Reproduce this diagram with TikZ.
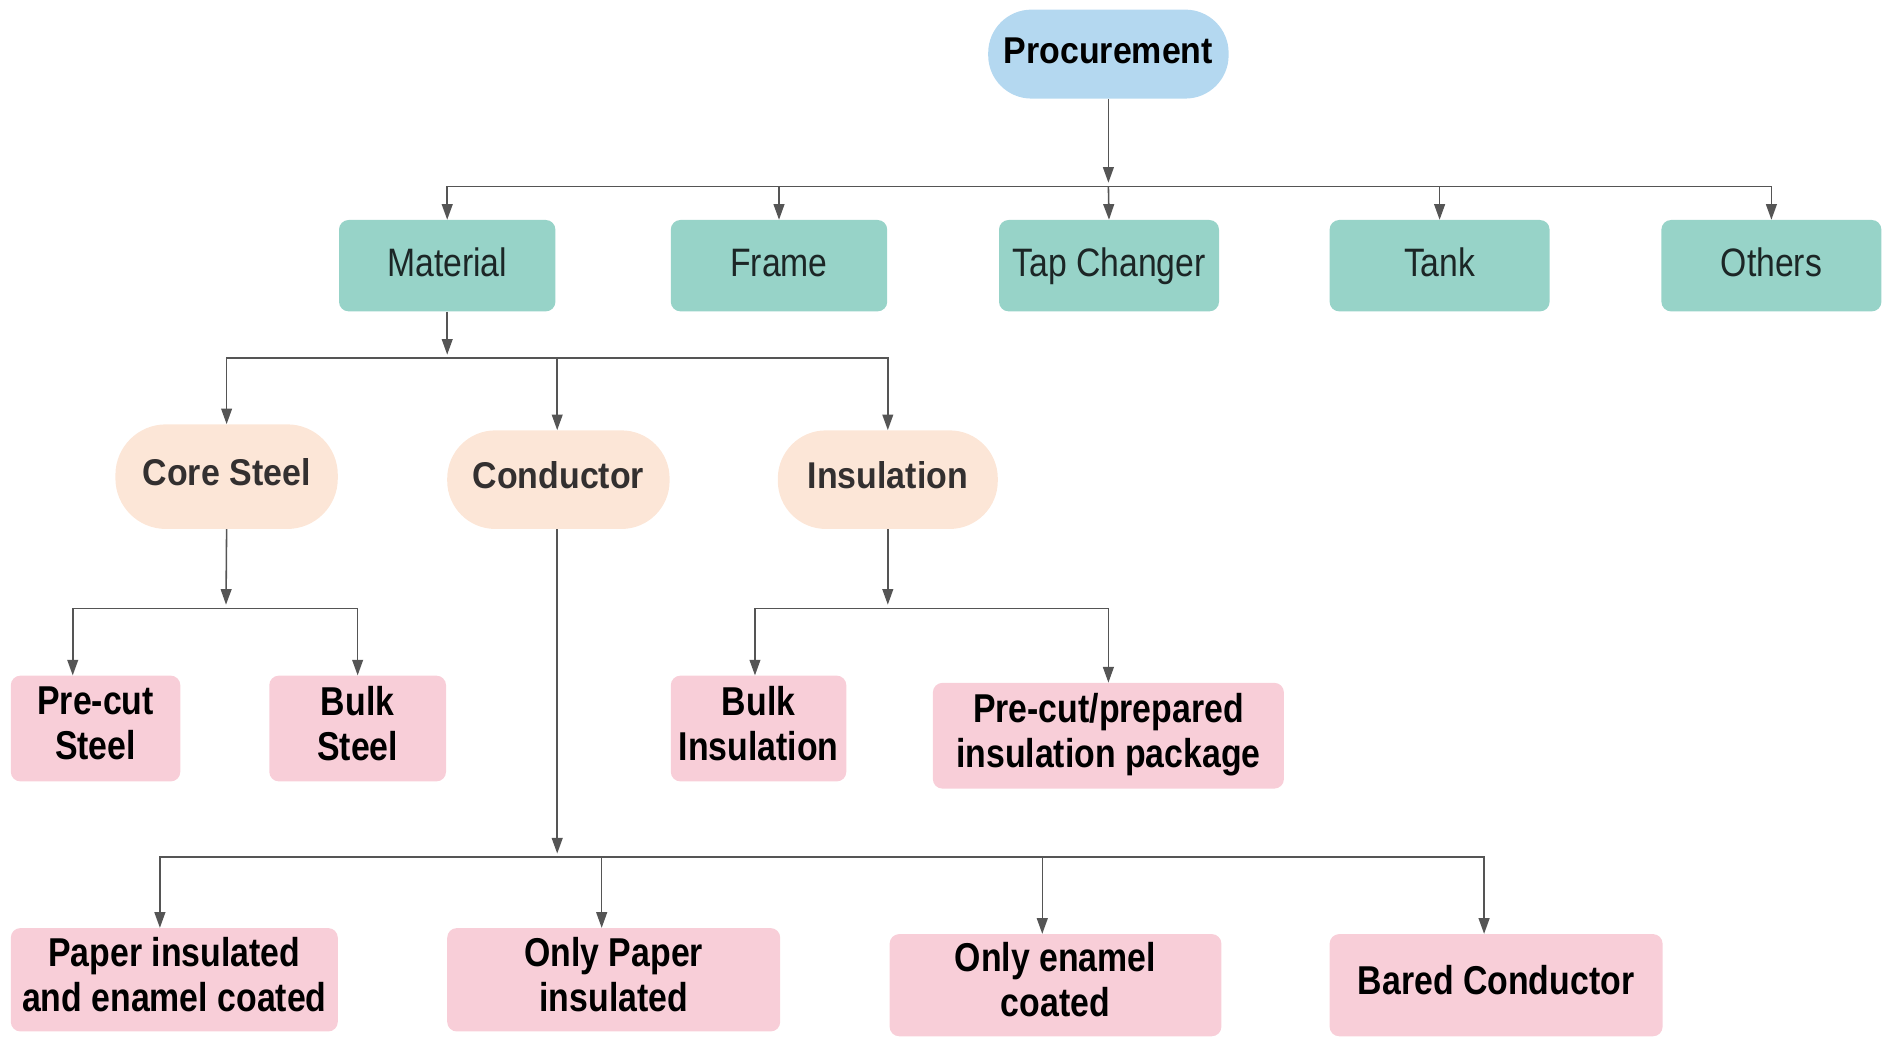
\documentclass[tikz,border=0pt]{standalone}
\usepackage{fontspec}
\setmainfont{Liberation Sans}[FakeStretch=0.86]
\newfontfamily\pillfont{Liberation Sans}[FakeStretch=0.91]
\newfontfamily\tealfont{Liberation Sans}[FakeStretch=0.85]
\newfontfamily\leaffont{Liberation Sans}[FakeStretch=0.84]
\usetikzlibrary{arrows.meta}
\definecolor{tealc}{HTML}{97D3C8}
\definecolor{bluec}{HTML}{B4D8F0}
\definecolor{peachc}{HTML}{FCE6D7}
\definecolor{pinkc}{HTML}{F8CED8}
\definecolor{linec}{HTML}{555555}
\definecolor{textdark}{HTML}{1C2626}
\definecolor{pilltext}{HTML}{333030}
\begin{document}
\begin{tikzpicture}[x=1pt,y=-1pt]
\tikzset{
  base/.style={inner sep=0pt, align=center},
  procbox/.style={base, fill=bluec, rounded corners=36pt, minimum width=200pt, minimum height=74pt,
    font={\pillfont\bfseries\fontsize{31}{37}\selectfont}, text=black, text height=23pt, text depth=8pt},
  topbox/.style={base, fill=tealc, rounded corners=8pt, minimum height=76pt,
    font={\tealfont\fontsize{33}{38}\selectfont}, text=textdark, text height=24pt, text depth=6pt},
  pill/.style={base, fill=peachc, rounded corners=40pt, minimum height=82pt,
    font={\pillfont\bfseries\fontsize{31}{37}\selectfont}, text=pilltext, text height=23pt, text depth=9pt},
  leaf/.style={base, fill=pinkc, rounded corners=8pt,
    font={\leaffont\bfseries\fontsize{33.5}{37.5}\selectfont}, text=black, text depth=9pt},
  link/.style={draw=linec, line width=1.3pt},
  arr/.style={link, -{Triangle[length=13pt,width=9pt]}}
}
\useasboundingbox (0,0) rectangle (1568,862);

% nodes
\node[procbox] (proc) at (922,45) {Procurement};

\node[topbox, minimum width=180pt] (material) at (372,221) {Material};
\node[topbox, minimum width=180pt] (frame) at (648,221) {Frame};
\node[topbox, minimum width=183pt] (tap) at (922.5,221) {Tap Changer};
\node[topbox, minimum width=183pt] (tank) at (1197.5,221) {Tank};
\node[topbox, minimum width=183pt] (others) at (1473.5,221) {Others};

\node[pill, minimum width=185pt, minimum height=87pt, rounded corners=42pt] (core) at (188.5,396.5) {Core Steel};
\node[pill, minimum width=185pt] (cond) at (464.5,399) {Conductor};
\node[pill, minimum width=183pt] (ins) at (738.5,399) {Insulation};

\node[leaf, minimum width=141pt, minimum height=88pt] (precut) at (79.5,606) {Pre-cut\\Steel};
\node[leaf, minimum width=147pt, minimum height=88pt] (bulks) at (297.5,606) {Bulk\\Steel};
\node[leaf, minimum width=146pt, minimum height=88pt] (bulki) at (631,606) {Bulk\\Insulation};
\node[leaf, minimum width=292pt, minimum height=88pt] (prep) at (922,612) {Pre-cut/prepared\\insulation package};

\node[leaf, minimum width=272pt, minimum height=86pt] (p1) at (145,815) {Paper insulated\\and enamel coated};
\node[leaf, minimum width=277pt, minimum height=86pt] (p2) at (510.5,815) {Only Paper\\insulated};
\node[leaf, minimum width=276pt, minimum height=85pt] (p3) at (878,819.5) {Only enamel\\coated};
\node[leaf, minimum width=277pt, minimum height=85pt] (p4) at (1244.5,819.5) {Bared Conductor};

% junctions
\coordinate (j1) at (922,155);
\coordinate (j2) at (372,298);
\coordinate (j3) at (188,506);
\coordinate (j5) at (738.5,506);
\coordinate (j4) at (463.5,713);

% connectors
\draw[arr] (proc.south) -- ([yshift=3pt]j1);
\draw[arr] (j1) -| (material.north);
\draw[arr] (j1) -| (frame.north);
\draw[arr] (j1) -- (tap.north);
\draw[arr] (j1) -| (tank.north);
\draw[arr] (j1) -| (others.north);

\draw[arr] (material.south) -- ([yshift=3pt]j2);
\draw[arr] (j2) -| (core.north);
\draw[arr] (j2) -| ([xshift=-1pt]cond.north);
\draw[arr] (j2) -| (ins.north);

\draw[arr] (core.south) -- ([yshift=3pt]j3);
\draw[arr] (j3) -| ([xshift=-19pt]precut.north);
\draw[arr] (j3) -| (bulks.north);

\draw[arr] (ins.south) -- ([yshift=3pt]j5);
\draw[arr] (j5) -| ([xshift=-3pt]bulki.north);
\draw[arr] (j5) -| (prep.north);

\draw[arr] ([xshift=-1pt]cond.south) -- ([yshift=3pt]j4);
\draw[arr] (j4) -| ([xshift=-12pt]p1.north);
\draw[arr] (j4) -| ([xshift=-10pt]p2.north);
\draw[arr] (j4) -| ([xshift=-11pt]p3.north);
\draw[arr] (j4) -| ([xshift=-10pt]p4.north);
\end{tikzpicture}
\end{document}
